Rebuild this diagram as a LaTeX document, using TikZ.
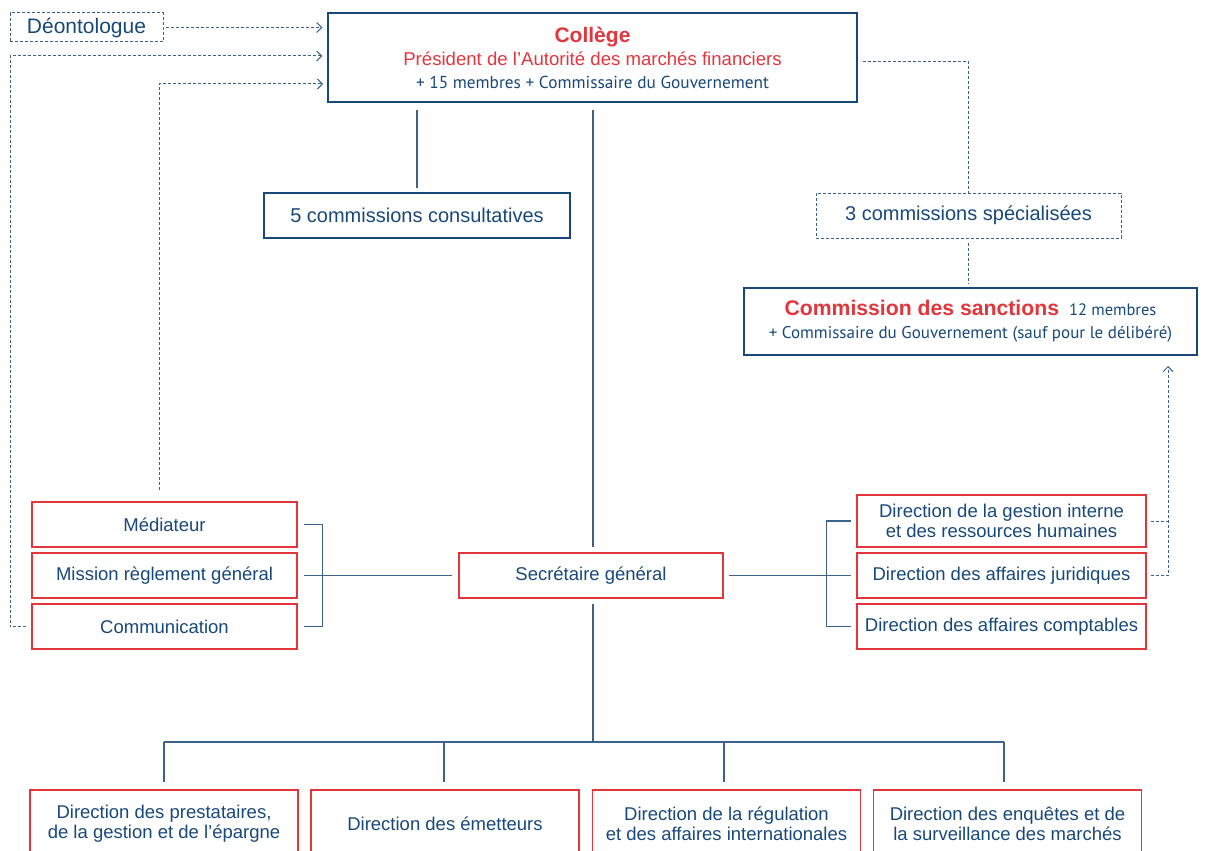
\documentclass[tikz,border=0pt]{standalone}
\usepackage{fontspec}
\setmainfont{Liberation Sans}
\newfontfamily\myriad{PT Sans}
\usepackage{xcolor}
\usetikzlibrary{arrows.meta}

\definecolor{amfblue}{RGB}{24,72,122}
\definecolor{amfred}{RGB}{226,54,60}
\definecolor{amfline}{RGB}{58,98,138}

\tikzset{
  box/.style={line width=1.2pt, text=amfblue, align=center, inner sep=0pt},
  redbox/.style={box, draw=amfred, font=\fontsize{18.5}{20}\selectfont},
  bluebox/.style={box, draw=amfblue, font=\fontsize{20}{22}\selectfont},
  dotbox/.style={bluebox, draw=amfline, dash pattern=on 3pt off 2pt, line width=1pt},
  link/.style={draw=amfline, line width=1.2pt},
  dotlink/.style={draw=amfline, line width=1pt, dash pattern=on 3pt off 2pt},
  >={Straight Barb[length=5pt,width=10pt,line width=1pt]}
}

\begin{document}
\begin{tikzpicture}[x=1pt,y=-1pt]
                  \useasboundingbox (0,0) rectangle (1205,851);
                  \clip (0,0) rectangle (1205,851);

                  % top
                  \node[dotbox, minimum width=153pt, minimum height=29pt, font=\fontsize{21}{23}\selectfont] (deon) at (86.5,27.5) {Déontologue};
                  \node[bluebox, minimum width=529pt, minimum height=89pt] (college) at (592.5,57.5)
                    {\textcolor{amfred}{\fontsize{21}{22}\selectfont\bfseries Collège}\\[1pt]
                     \textcolor{amfred}{\fontsize{18.6}{22}\selectfont Président de l'Autorité des marchés financiers}\\[1pt]
                     {\myriad\fontsize{17.3}{22}\selectfont + 15 membres + Commissaire du Gouvernement}};

                  % commissions
                  \node[bluebox, minimum width=306pt, minimum height=45pt] (ccons) at (417,215.5) {5 commissions consultatives};
                  \node[dotbox, minimum width=305pt, minimum height=45pt] (cspec) at (968.5,215.5) {3 commissions spécialisées};
                  \node[bluebox, minimum width=453pt, minimum height=67pt] (sanc) at (970.5,321.5)
                    {\textcolor{amfred}{\fontsize{21.2}{23}\selectfont\bfseries Commission des sanctions}
                     {\myriad\fontsize{16.5}{23}\selectfont\ 12 membres}\\[1pt]
                     {\myriad\fontsize{17}{23}\selectfont + Commissaire du Gouvernement (sauf pour le délibéré)}};

                  % left column
                  \node[redbox, minimum width=265pt, minimum height=45pt] (med) at (164.5,524.5) {Médiateur};
                  \node[redbox, minimum width=265pt, minimum height=45pt] (mis) at (164.5,575.5) {Mission règlement général};
                  \node[redbox, minimum width=265pt, minimum height=45pt] (com) at (164.5,626.5) {Communication};

                  % centre
                  \node[redbox, minimum width=264pt, minimum height=45pt] (sg) at (591,575.5) {Secrétaire général};

                  % right column
                  \node[redbox, minimum width=289pt, minimum height=52pt] (dgrh) at (1001.5,521) {Direction de la gestion interne\\et des ressources humaines};
                  \node[redbox, minimum width=289pt, minimum height=45pt] (daj) at (1001.5,575.5) {Direction des affaires juridiques};
                  \node[redbox, minimum width=289pt, minimum height=45pt] (dac) at (1001.5,626.5) {Direction des affaires comptables};

                  % bottom row
                  \node[redbox, minimum width=268pt, minimum height=68pt] (dpge) at (164,824) {Direction des prestataires,\\de la gestion et de l’épargne};
                  \node[redbox, minimum width=268pt, minimum height=68pt] (dem) at (445,824) {Direction des émetteurs};
                  \node[redbox, minimum width=268pt, minimum height=68pt] (dri) at (726.5,824) {Direction de la régulation\\et des affaires internationales};
                  \node[redbox, minimum width=268pt, minimum height=68pt] (dsm) at (1007.5,824) {Direction des enquêtes et de\\la surveillance des marchés};

                  % helper points
                  \coordinate (lft) at (10,56);
                  \coordinate (medup) at (159,490);
                  \coordinate (cin) at (328,84);
                  \coordinate (sancin) at (1168,366);
                  \coordinate (hub) at (593,742);

                  % solid links
                  \draw[link, shorten <=7pt, shorten >=4pt] (college.south -| ccons.north) -- (ccons.north);
                  \draw[link, shorten <=7pt, shorten >=5pt] (college.south -| hub) -- (sg.north -| hub);
                  \draw[link] ([xshift=6pt]med.east) -- ++(19,0) |- ([xshift=6pt]com.east);
                  \draw[link] ([xshift=6pt]mis.east) -- ([xshift=-6pt]sg.west);
                  \draw[link] ([xshift=5pt]sg.east) -- ([xshift=-5pt]daj.west);
                  \draw[link] ([xshift=-5pt]dgrh.west) -- ++(-25,0) |- ([xshift=-5pt]dac.west);
                  \draw[link] ([yshift=-5pt]sg.south -| hub) -- (hub);
                  \draw[link] (hub -| 164,0) -- (hub -| 1004,0);
                  \foreach \x/\d in {164/dpge,444/dem,724/dri,1004/dsm}
                    \draw[link, shorten >=7pt] (hub -| \x,0) -- (\d.north -| \x,0);

                  % dotted links
                  \draw[dotlink, ->, shorten <=2pt, shorten >=5pt] (deon.east) -- (college.west |- deon.east);
                  \draw[dotlink, ->, shorten >=5pt] ([xshift=-5pt]com.west) -| (lft) -- (college.west |- lft);
                  \draw[dotlink, ->, shorten >=5pt] (medup) |- (cin);
                  \draw[dotlink] ([xshift=5pt,yshift=-4pt]college.east) -| (cspec.north -| 968,0);
                  \draw[dotlink, shorten <=4pt, shorten >=4pt] (cspec.south -| 968,0) -- (sanc.north -| 968,0);
                  \draw[dotlink] ([xshift=4pt]dgrh.east) -- (dgrh.east -| sancin);
                  \draw[dotlink, ->] ([xshift=4pt]daj.east) -| (sancin);
              \end{tikzpicture}
\end{document}
